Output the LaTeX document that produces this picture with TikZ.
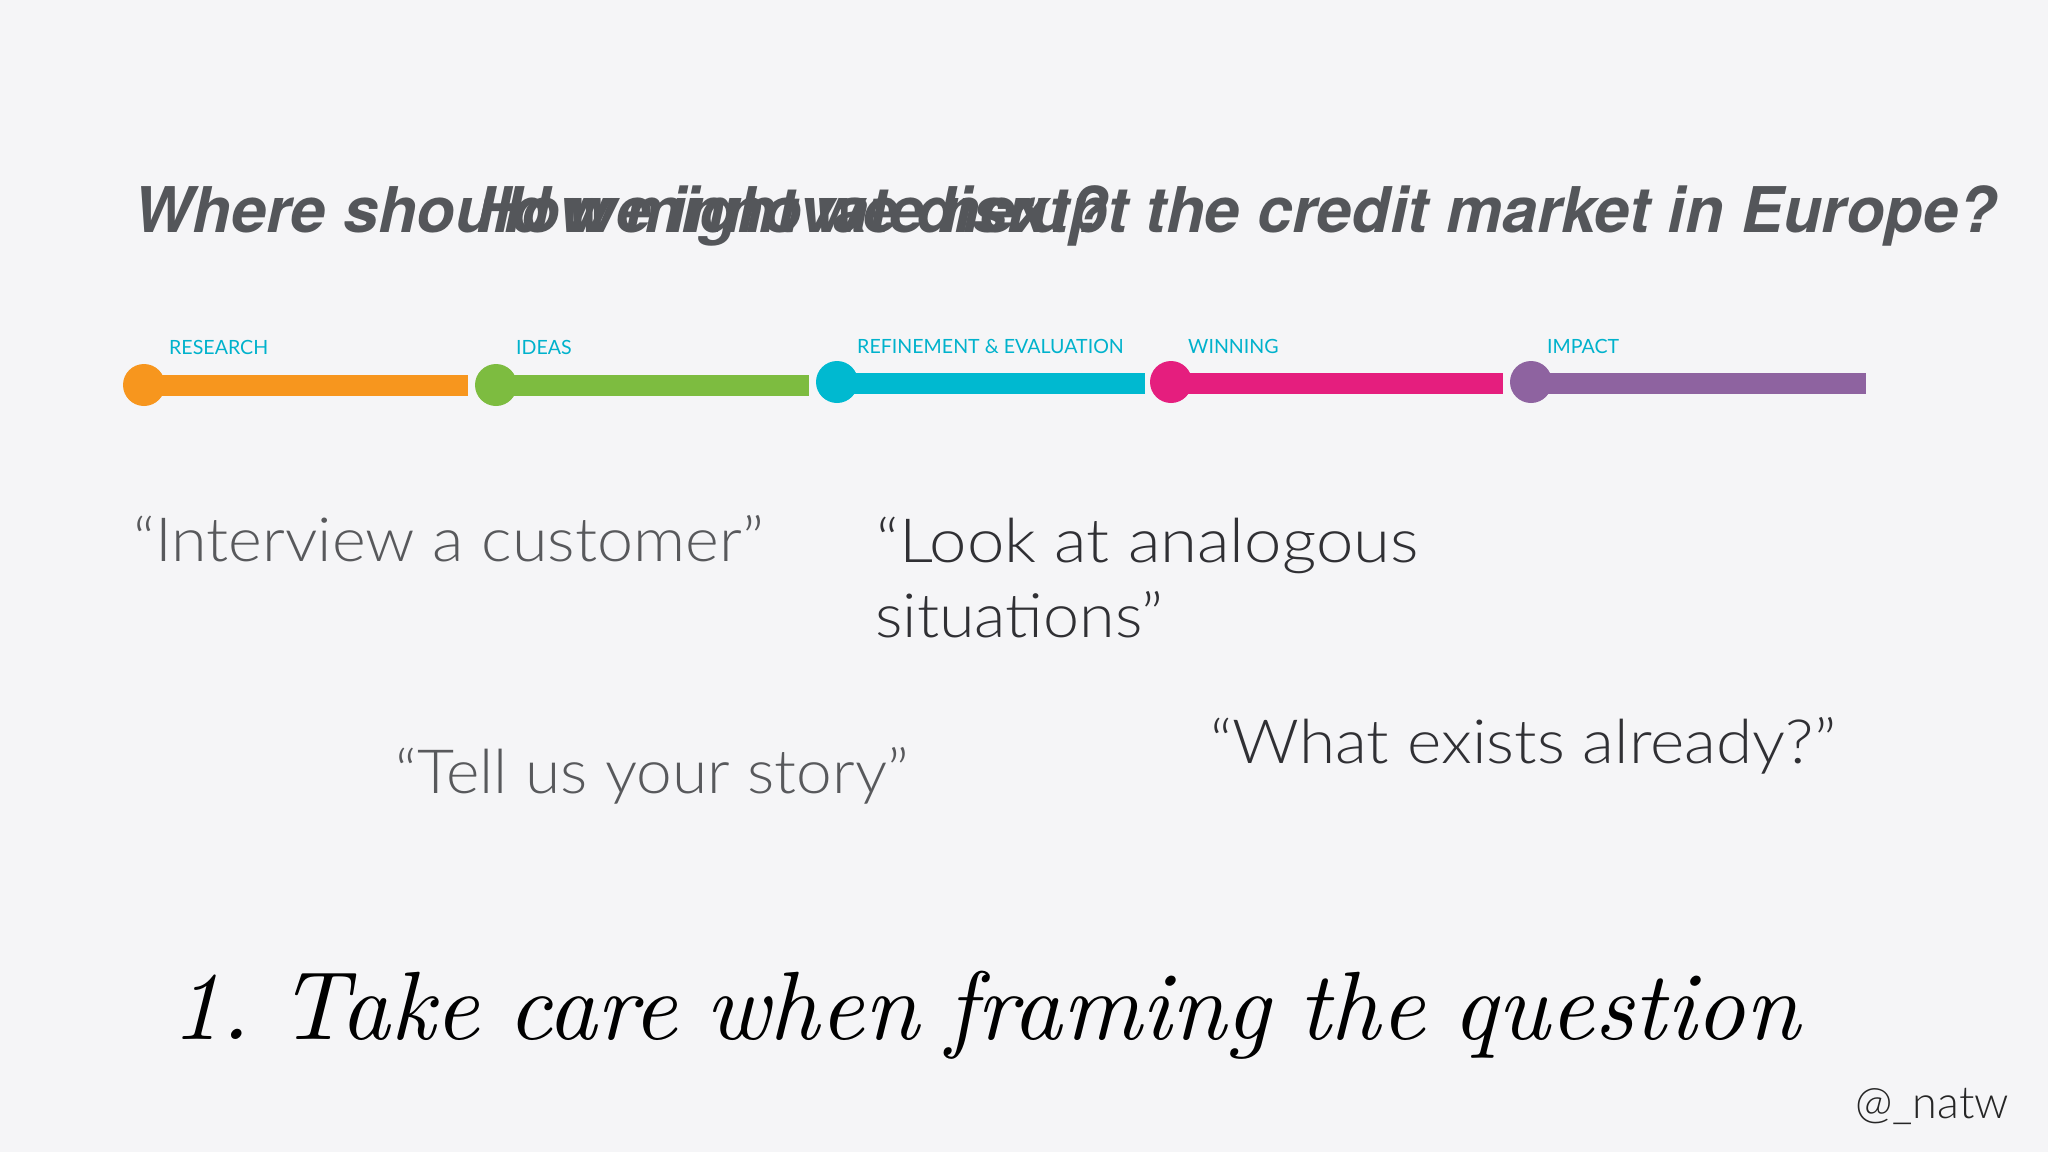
\documentclass[tikz,border=0pt]{standalone}
\usepackage{fontspec}
\newfontfamily\heros{TeX Gyre Heros}
\newfontfamily\lato{Lato}
\newfontfamily\latolight{Lato}[UprightFont={* Light}]
\newfontfamily\lmtenit{lmroman10-italic}[Extension=.otf]
\definecolor{bg}{RGB}{245,245,247}
\definecolor{titlegray}{RGB}{84,86,90}
\definecolor{quotegray}{RGB}{88,89,92}
\definecolor{quotedark}{RGB}{48,48,52}
\definecolor{labelcyan}{RGB}{0,178,204}
\definecolor{corange}{RGB}{247,150,30}
\definecolor{cgreen}{RGB}{125,188,64}
\definecolor{ccyan}{RGB}{0,185,208}
\definecolor{cpink}{RGB}{229,30,126}
\definecolor{cpurple}{RGB}{142,99,160}
\tikzset{
  titletext/.style={inner sep=0, anchor=base west, text=titlegray, font=\heros\bfseries\itshape\fontsize{63}{70}\selectfont},
  stagelabel/.style={inner sep=0, anchor=base west, text=labelcyan, font=\lato\fontsize{19.6}{22}\selectfont},
  dot/.style={circle, inner sep=0, minimum size=42pt, fill=#1},
  bar/.style={line width=21pt, draw=#1},
  quotetext/.style={inner sep=0, anchor=base west, text=#1, font=\latolight\fontsize{61}{70}\selectfont},
}
\begin{document}
\frenchspacing
\begin{tikzpicture}[x=1pt, y=-1pt]
\fill[bg] (0,0) rectangle (2048,1152);
\useasboundingbox (0,0) rectangle (2048,1152);

% overlapping titles
\node[titletext] (t1) at (133,232) {Where should we innovate next?};
\node[titletext] (t2) at (476,232) {How might we disrupt the credit market in Europe?};

% timeline
\coordinate (e1) at (468,385);
\coordinate (e2) at (809,385);
\coordinate (e3) at (1145,383);
\coordinate (e4) at (1503,383);
\coordinate (e5) at (1866,383);
\node[dot=corange] (c1) at (144,385) {};
\node[dot=cgreen] (c2) at (496,385) {};
\node[dot=ccyan] (c3) at (837,382) {};
\node[dot=cpink] (c4) at (1171,382) {};
\node[dot=cpurple] (c5) at (1531,382) {};
\draw[bar=corange] (c1.center |- e1) -- (e1);
\draw[bar=cgreen] (c2.center |- e2) -- (e2);
\draw[bar=ccyan] (c3.center |- e3) -- (e3);
\draw[bar=cpink] (c4.center |- e4) -- (e4);
\draw[bar=cpurple] (c5.center |- e5) -- (e5);

\node[stagelabel] (l1) at (169,354) {RESEARCH};
\node[stagelabel] (l2) at (516,354) {IDEAS};
\node[stagelabel] (l3) at (857,353) {REFINEMENT \& EVALUATION};
\node[stagelabel] (l4) at (1188,353) {WINNING};
\node[stagelabel] (l5) at (1547,353) {IMPACT};

% quotes
\node[quotetext=quotegray] (q1) at (133,561) {\scalebox{1.06}[1]{“Interview a customer”}};
\node[quotetext=quotedark] (q2a) at (876,562) {\scalebox{1.1}[1]{“Look at analogous}};
\node[quotetext=quotedark] (q2b) at (875,637) {\scalebox{1.06}[1]{situations”}};
\node[quotetext=quotegray] (q3) at (395,793) {\scalebox{1.05}[1]{“Tell us your story”}};
\node[quotetext=quotedark] (q4) at (1210,763) {\scalebox{1.077}[1]{“What exists already?”}};

% bottom statement
\node[inner sep=0, anchor=base west, font=\lmtenit\fontsize{97}{110}\selectfont] (main) at (171,1039) {\spaceskip=0.29em\relax 1. Take care when framing the question};

\node[inner sep=0, anchor=base west, text=black!85, font=\latolight\fontsize{45}{50}\selectfont] (handle) at (1855,1118) {@\_natw};
\end{tikzpicture}
\end{document}
